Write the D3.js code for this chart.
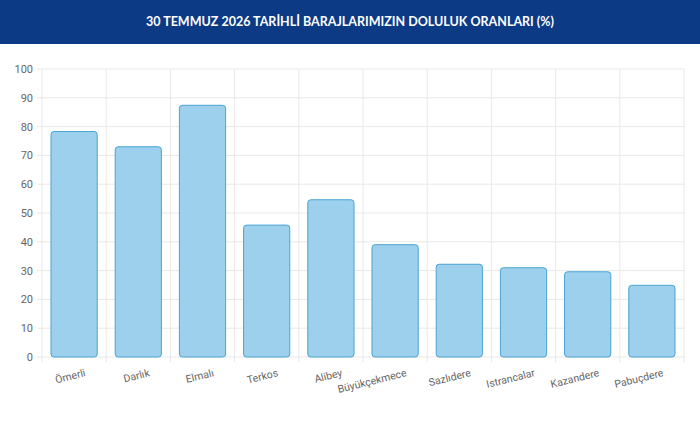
<!DOCTYPE html>
<html><head><meta charset="utf-8">
<script src="https://cdn.jsdelivr.net/npm/d3@7"></script>
<style>body{margin:0;background:#fff;font-family:Roboto,"Open Sans",sans-serif}</style>
</head><body>
<svg id="chart" width="700" height="431"></svg>
<script>
const dams = ["Ömerli","Darlık","Elmalı","Terkos","Alibey","Büyükçekmece","Sazlıdere","Istrancalar","Kazandere","Pabuçdere"];
const fillRates = [78.3,73.0,87.4,45.8,54.6,39.0,32.2,31.0,29.6,24.9];
const yTicks = [0,10,20,30,40,50,60,70,80,90,100];

const svg = d3.select("#chart");
const margin = {left: 42, right: 16, top: 69, bottom: 74};
const W = 700, H = 431;

svg.append("rect").attr("width", W).attr("height", 44).attr("fill", "#0d3a85");
svg.append("text").attr("x", W / 2).attr("y", 26).attr("text-anchor", "middle")
  .attr("fill", "#fff").attr("font-size", 12.5).attr("font-weight", "bold")
  .attr("font-family", "Lato, sans-serif")
  .text("30 TEMMUZ 2026 TARİHLİ BARAJLARIMIZIN DOLULUK ORANLARI (%)");

const x = d3.scaleBand().domain(dams).range([margin.left, W - margin.right]).paddingInner(0.28).paddingOuter(0.14);
const xb = d3.scaleBand().domain(dams).range([margin.left, W - margin.right]);
const y = d3.scaleLinear().domain([0, 100]).range([H - margin.bottom, margin.top]);

const g = svg.append("g");
// grid
g.selectAll(".hg").data(yTicks).join("line")
  .attr("x1", margin.left - 5).attr("x2", W - margin.right)
  .attr("y1", d => y(d)).attr("y2", d => y(d))
  .attr("stroke", "#e8e8e8");
g.selectAll(".vg").data(dams.concat([null])).join("line")
  .attr("x1", (d, i) => margin.left + i * xb.bandwidth()).attr("x2", (d, i) => margin.left + i * xb.bandwidth())
  .attr("y1", margin.top).attr("y2", y(0) + 5)
  .attr("stroke", "#e8e8e8");
g.selectAll(".yl").data(yTicks).join("text")
  .attr("x", margin.left - 9).attr("y", d => y(d) + 4).attr("text-anchor", "end")
  .attr("font-size", 11).attr("fill", "#666").text(d => d);

g.selectAll(".bar").data(fillRates).join("rect")
  .attr("x", (d, i) => x(dams[i])).attr("width", x.bandwidth())
  .attr("y", d => y(d)).attr("height", d => y(0) - y(d))
  .attr("rx", 3)
  .attr("fill", "#9dd0ec").attr("stroke", "#4aa3d2").attr("stroke-width", 1);

g.selectAll(".xl").data(dams).join("text")
  .attr("text-anchor", "end").attr("font-size", 10.5).attr("fill", "#666")
  .attr("transform", d => `translate(${xb(d) + xb.bandwidth() / 2 + 12},${y(0) + 19}) rotate(-14)`)
  .text(d => d);
</script>
</body></html>
